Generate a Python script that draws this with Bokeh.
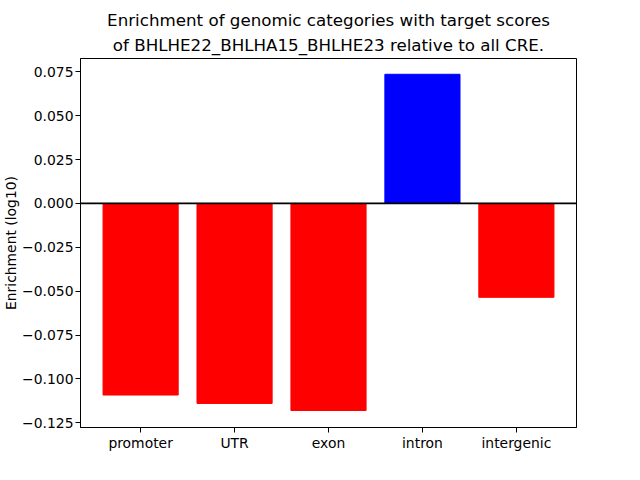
from bokeh.plotting import figure
from bokeh.models import Range1d, FixedTicker, ColumnDataSource, Span, Title
from bokeh.embed import file_html
from bokeh.resources import INLINE

categories = ["promoter", "UTR", "exon", "intron", "intergenic"]
values = [-0.1092, -0.1140, -0.1180, 0.0736, -0.0535]
y_ticks = [-0.125, -0.100, -0.075, -0.050, -0.025, 0.0, 0.025, 0.050, 0.075]
y_tick_labels = ["\u22120.125", "\u22120.100", "\u22120.075", "\u22120.050", "\u22120.025",
                 "0.000", "0.025", "0.050", "0.075"]

xs = list(range(len(categories)))
colors = ["blue" if v > 0 else "red" for v in values]
src = ColumnDataSource(dict(x=xs, top=values, color=colors))

FONT = "DejaVu Sans"

p = figure(output_backend="svg", toolbar_location=None,
           x_range=Range1d(-0.64, 4.64), y_range=Range1d(-0.1277, 0.0826),
           frame_width=496, frame_height=369,
           min_border_left=0, min_border_top=0, min_border_right=48, min_border_bottom=36)
p.title = None
p.vbar(x="x", top="top", bottom=0, width=0.8, color="color", source=src)
p.add_layout(Span(location=0, dimension="width", line_color="black", line_width=1.8))

p.xgrid.visible = False
p.ygrid.visible = False
p.outline_line_color = "black"
p.outline_line_width = 1

p.xaxis.ticker = FixedTicker(ticks=xs)
p.xaxis.major_label_overrides = {i: c for i, c in zip(xs, categories)}
p.yaxis.ticker = FixedTicker(ticks=y_ticks)
p.yaxis.major_label_overrides = {t: l for t, l in zip(y_ticks, y_tick_labels)}
for ax in [p.xaxis[0], p.yaxis[0]]:
    ax.minor_tick_line_color = None
    ax.major_tick_out = 5
    ax.major_tick_in = 0
    ax.axis_line_color = "black"
    ax.major_tick_line_color = "black"
    ax.major_label_text_font = FONT
    ax.major_label_text_font_size = "13.9px"
    ax.major_label_text_color = "black"
    ax.major_label_standoff = 2
p.yaxis.axis_label = "Enrichment (log10)"
p.yaxis.axis_label_text_font = FONT
p.yaxis.axis_label_text_font_size = "13.9px"
p.yaxis.axis_label_text_font_style = "normal"
p.yaxis.axis_label_text_color = "black"
p.yaxis.axis_label_standoff = 0

t2 = Title(text="of BHLHE22_BHLHA15_BHLHE23 relative to all CRE.", align="center",
           text_font=FONT, text_font_size="16.7px", text_font_style="normal",
           text_color="black", standoff=7)
t1 = Title(text="Enrichment of genomic categories with target scores", align="center",
           text_font=FONT, text_font_size="16.7px", text_font_style="normal",
           text_color="black", standoff=0)
spacer = Title(text=" ", text_font_size="1px", standoff=4)
p.add_layout(t2, "above")
p.add_layout(t1, "above")
p.add_layout(spacer, "above")

open("out.html", "w").write(file_html(p, INLINE))
